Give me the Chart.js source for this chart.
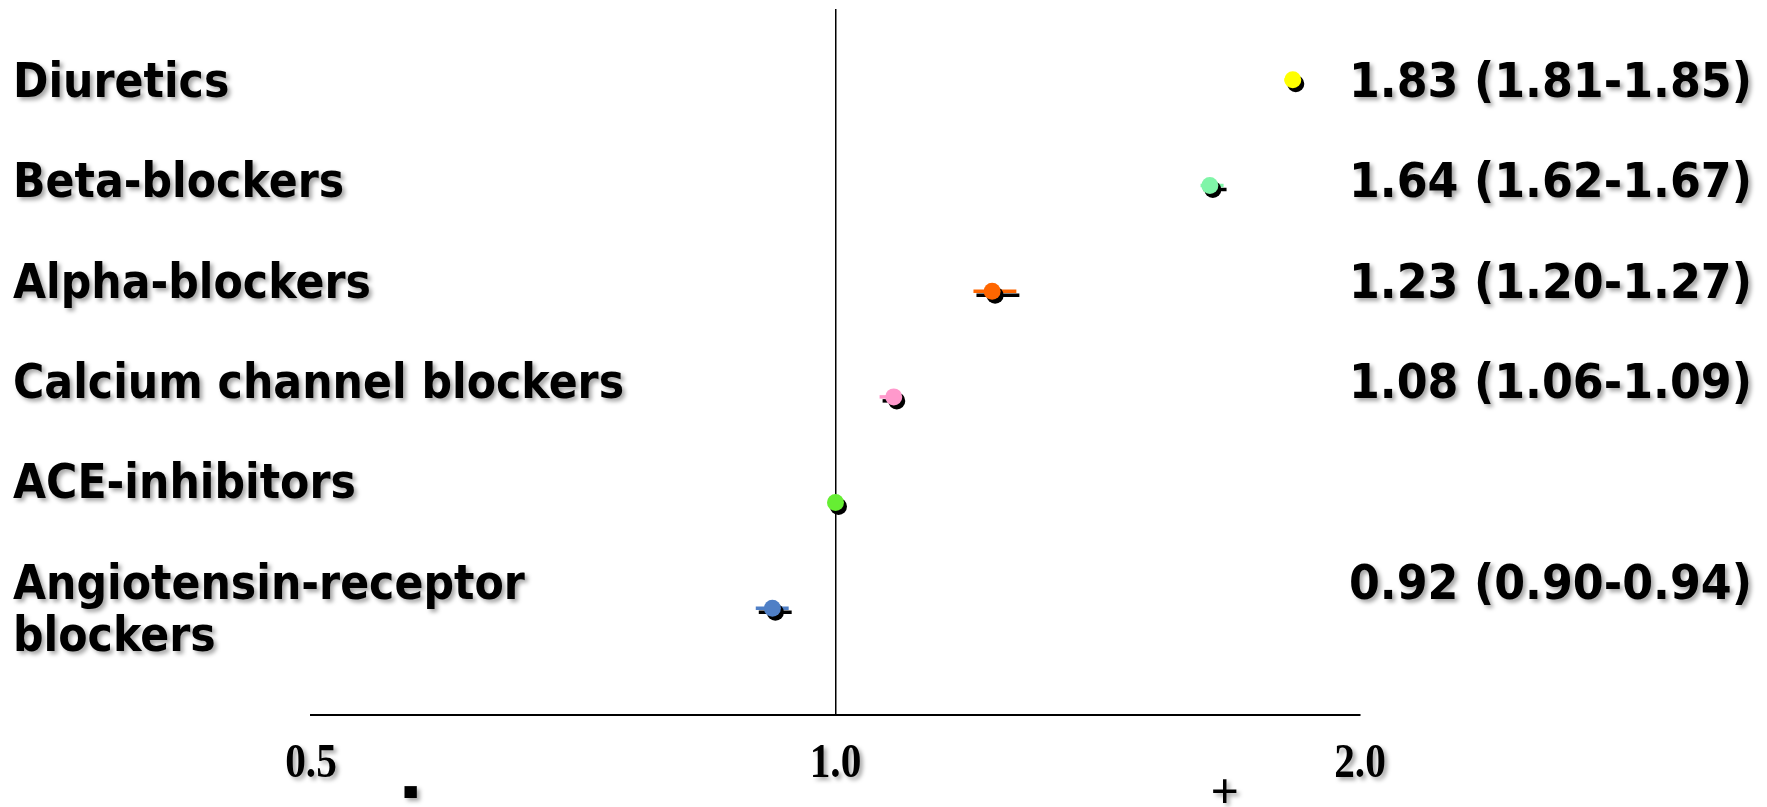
<!DOCTYPE html>
<html>
<head>
<meta charset="utf-8">
<script src="https://cdn.jsdelivr.net/npm/chart.js@4.4.1/dist/chart.umd.min.js"></script>
<style>
  html, body { margin: 0; padding: 0; background: #ffffff; overflow: hidden; }
  #wrap { width: 1767px; height: 807px; position: relative; }
</style>
</head>
<body>
<div id="wrap"><canvas id="forest"></canvas></div>
<script>
// Antihypertensive drug classes, odds ratios and 95% confidence intervals
const drugClasses = [
  ['Diuretics'],
  ['Beta-blockers'],
  ['Alpha-blockers'],
  ['Calcium channel blockers'],
  ['ACE-inhibitors'],
  ['Angiotensin-receptor', 'blockers']
];
const oddsRatios = [1.83, 1.64, 1.23, 1.08, 1.00, 0.92];
const ciLower    = [1.81, 1.62, 1.20, 1.06, null, 0.90];
const ciUpper    = [1.85, 1.67, 1.27, 1.09, null, 0.94];
const xTickValues = [0.5, 1.0, 2.0];
const xTickLabels = ['0.5', '1.0', '2.0'];
const classColors = ['#FFFF00', '#80F5A8', '#FF6600', '#FF99CC', '#66EE33', '#4F7FC6'];

// "1.83 (1.81-1.85)" style estimate text, only where an interval exists
const estimateText = oddsRatios.map((v, i) =>
  ciLower[i] == null ? '' :
  `${v.toFixed(2)} (${ciLower[i].toFixed(2)}-${ciUpper[i].toFixed(2)})`);

const LABEL_FONT = 'bold 48px "DejaVu Sans", Verdana, sans-serif';
const TICK_FONT = 'bold 48px "Liberation Serif", "Times New Roman", serif';
const SIGN_FONT = 'bold 50px "Liberation Serif", "Times New Roman", serif';

// Interval whiskers: one two-point line per class
const ciDatasets = [];
oddsRatios.forEach((v, i) => {
  if (ciLower[i] == null) return;
  ciDatasets.push({
    type: 'line',
    data: [{ x: ciLower[i], y: i }, { x: ciUpper[i], y: i }],
    borderColor: classColors[i],
    borderWidth: 3.5,
    pointRadius: 0,
    borderCapStyle: 'butt',
    fill: false
  });
});

// Hard black drop shadow under markers and whiskers
const markerShadow = {
  id: 'markerShadow',
  beforeDatasetsDraw(chart) {
    const ctx = chart.ctx;
    ctx.save();
    ctx.shadowColor = '#000000';
    ctx.shadowBlur = 0;
    ctx.shadowOffsetX = 3;
    ctx.shadowOffsetY = 4;
  },
  afterDatasetsDraw(chart) {
    chart.ctx.restore();
  }
};

function shadowText(ctx, text, x, y, opts) {
  ctx.save();
  ctx.font = opts.font;
  ctx.fillStyle = '#000000';
  ctx.textAlign = opts.align;
  ctx.textBaseline = opts.baseline || 'alphabetic';
  ctx.shadowColor = 'rgba(0,0,0,0.35)';
  ctx.shadowBlur = 4;
  ctx.shadowOffsetX = 3;
  ctx.shadowOffsetY = 3;
  ctx.translate(x, y);
  ctx.scale(opts.sx || 1, opts.sy || 1);
  ctx.fillText(text, 0, 0);
  ctx.restore();
}

// Row labels, estimate texts, axis numbers and direction signs
const forestText = {
  id: 'forestText',
  afterDraw(chart) {
    const ctx = chart.ctx;
    const area = chart.chartArea;
    const xs = chart.scales.x;
    const firstBaseline = area.top + 88;
    const rowStep = 100.3;
    const lineStep = 52;
    drugClasses.forEach((lines, i) => {
      const base = firstBaseline + i * rowStep;
      lines.forEach((ln, k) =>
        shadowText(ctx, ln, 13, base + k * lineStep, { font: LABEL_FONT, align: 'left', sx: 0.89 }));
      if (estimateText[i])
        shadowText(ctx, estimateText[i], 1752, base, { font: LABEL_FONT, align: 'right', sx: 0.925 });
    });
    xTickValues.forEach((v, i) => {
      shadowText(ctx, xTickLabels[i], xs.getPixelForValue(v), area.bottom + 62,
        { font: TICK_FONT, align: 'center', sx: 0.86 });
    });
    const w = area.right - area.left;
    shadowText(ctx, '-', area.left + w * 0.095, area.bottom + 74,
      { font: SIGN_FONT, align: 'center', baseline: 'middle', sx: 0.95, sy: 2.8 });
    shadowText(ctx, '+', area.left + w * 0.871, area.bottom + 93,
      { font: SIGN_FONT, align: 'center' });
  }
};

new Chart(document.getElementById('forest'), {
  type: 'scatter',
  data: {
    datasets: [
      {
        type: 'scatter',
        data: oddsRatios.map((v, i) => ({ x: v, y: i })),
        backgroundColor: classColors,
        borderWidth: 0,
        pointRadius: 8.5,
        pointHoverRadius: 8.5
      },
      ...ciDatasets
    ]
  },
  options: {
    responsive: true,
    maintainAspectRatio: false,
    animation: false,
    events: [],
    layout: { padding: { left: 311, right: 407, top: 9, bottom: 92 } },
    plugins: { legend: { display: false }, tooltip: { enabled: false } },
    scales: {
      x: {
        type: 'logarithmic',
        position: 'bottom',
        min: 0.5,
        max: 2.0,
        afterBuildTicks(scale) { scale.ticks = xTickValues.map(v => ({ value: v })); },
        ticks: { display: false },
        grid: {
          drawTicks: false,
          drawOnChartArea: true,
          color: c => (c.tick && c.tick.value === 1 ? '#000000' : 'rgba(0,0,0,0)'),
          lineWidth: 1.5
        },
        border: { display: true, color: '#000000', width: 2 }
      },
      y: {
        type: 'linear',
        display: false,
        reverse: true,
        min: -0.67,
        max: 6.01
      }
    }
  },
  plugins: [markerShadow, forestText]
});
</script>
</body>
</html>
